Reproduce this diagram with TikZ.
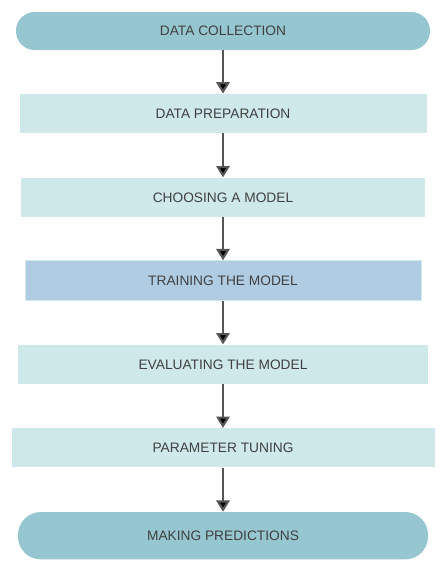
\documentclass[tikz,border=0pt]{standalone}
\usepackage{fontspec}
\setmainfont{Liberation Sans}
\usetikzlibrary{arrows.meta}

\definecolor{endfill}{HTML}{96C6D0}
\definecolor{stepfill}{HTML}{CFE8EA}
\definecolor{trainfill}{HTML}{B0CCE3}
\definecolor{arrowgray}{HTML}{555555}
\definecolor{textgray}{HTML}{404040}

\tikzset{
    box/.style={rectangle, inner sep=0pt, text=textgray,
        font=\fontsize{10.3}{12}\selectfont},
    endbox/.style={box, fill=endfill, minimum width=#1, rounded corners=14pt},
    stepbox/.style={box, fill=stepfill, minimum width=#1, minimum height=29.5pt},
    trainbox/.style={box, fill=trainfill, minimum width=#1, minimum height=30pt,
        draw=stepfill, line width=0.6pt},
    flow/.style={draw=arrowgray, line width=1.6pt,
        -{Triangle[width=10pt,length=8.5pt]}}
}

\begin{document}
\begin{tikzpicture}[x=0.75pt, y=-0.75pt]
    \useasboundingbox (0,0) rectangle (447,572);

        \node [endbox=310.5pt, minimum height=28.5pt] (collect) at (223,31) {DATA COLLECTION};
        \node [stepbox=305.25pt] (prepare) at (223,113.5) {DATA PREPARATION};
        \node [stepbox=303pt] (choose) at (223,197.3) {CHOOSING A MODEL};
        \node [trainbox=297pt] (train) at (223,280.7) {TRAINING THE MODEL};
        \node [stepbox=307.5pt] (evaluate) at (223,364.3) {EVALUATING THE MODEL};
        \node [stepbox=317.25pt] (tune) at (223,447.8) {PARAMETER TUNING};
        \node [endbox=307.5pt, minimum height=35.5pt, rounded corners=17pt] (predict) at (223,535.7) {MAKING PREDICTIONS};

    \draw[flow]
        (collect) edge (prepare)
        (prepare) edge (choose)
        (choose) edge (train)
        (train) edge (evaluate)
        (evaluate) edge (tune)
        (tune) edge (predict)
        ;
    \end{tikzpicture}
\end{document}
